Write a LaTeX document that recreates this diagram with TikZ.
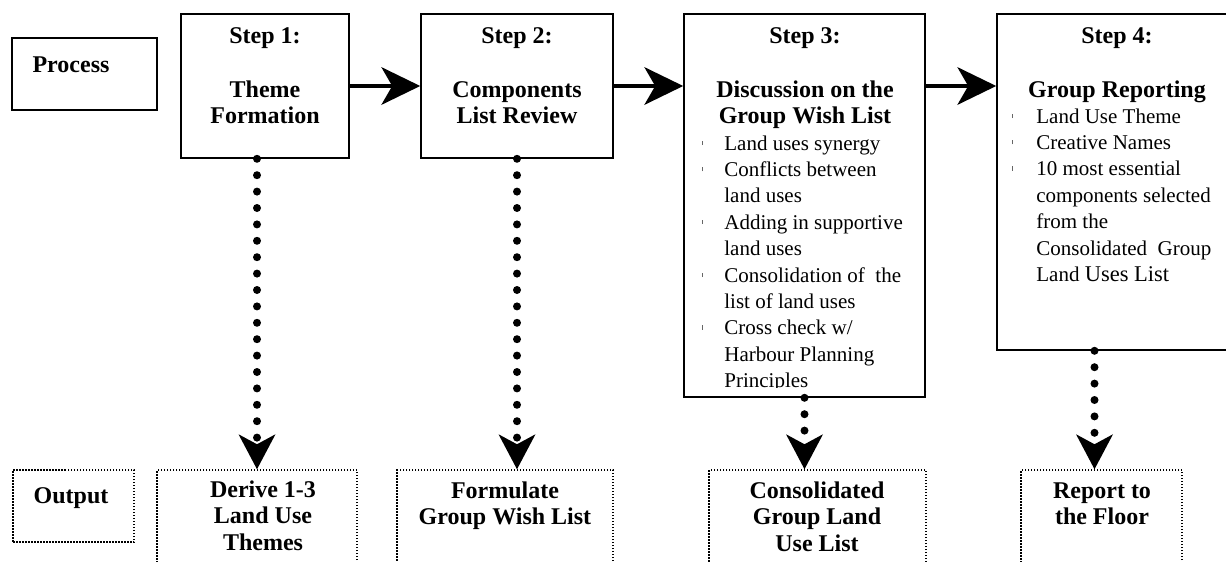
\documentclass[tikz,border=0pt]{standalone}
\usepackage{fontspec}
\setmainfont{Liberation Serif}
\usetikzlibrary{arrows.meta}

\tikzset{every picture/.style={line width=0.75pt}}
\tikzset{
  stepbox/.style={draw, line width=1.6, inner sep=0},
  outbox/.style={draw, line width=1.5, dash pattern=on 1.5pt off 1.5pt, inner sep=0},
  hdr/.style={font=\fontsize{24}{26}\selectfont\bfseries, align=center, inner sep=0},
  outtxt/.style={font=\fontsize{24}{26.5}\selectfont\bfseries, align=center, inner sep=0},
  itm/.style={font=\fontsize{21}{26.4}\selectfont, align=left, inner sep=0},
  flow/.style={line width=4, -{Stealth[length=39pt,width=38pt,inset=11pt,line width=0pt]}},
  dotflow/.style={line width=8, line cap=round, dash pattern=on 0pt off 16.4pt,
    -{Stealth[length=35pt,width=37pt,inset=10pt,line width=0pt]}}
}
\newcommand{\tck}[1]{\makebox[#1][l]{\color{black!60}\rule[5pt]{0.9pt}{4.5pt}}}

\begin{document}
\begin{tikzpicture}[x=1pt,y=1pt,yscale=-1,xscale=1]
\useasboundingbox (0,0) rectangle (1226,562);
\clip (0,0) rectangle (1226,562);

%Shape: Rectangle [process label]
\node [stepbox, minimum width=145, minimum height=72] (proc) at (84.5,74) {};
%Shape: Rectangle [step 1]
\node [stepbox, minimum width=168, minimum height=144] (s1) at (265,86) {};
%Shape: Rectangle [step 2]
\node [stepbox, minimum width=192, minimum height=144] (s2) at (517,86) {};
%Shape: Rectangle [step 3]
\node [stepbox, minimum width=241, minimum height=383] (s3) at (804.5,205.5) {};
%Shape: Rectangle [step 4]
\node [stepbox, minimum width=240, minimum height=336] (s4) at (1117,182) {};

%Shape: Rectangle [output label]
\node [outbox, minimum width=121, minimum height=72] (o0) at (73.5,506) {};
%Shape: Rectangle [output 1]
\node [outbox, minimum width=200, minimum height=130] (o1) at (257,535) {};
%Shape: Rectangle [output 2]
\node [outbox, minimum width=216, minimum height=130] (o2) at (505,535) {};
%Shape: Rectangle [output 3]
\node [outbox, minimum width=217, minimum height=130] (o3) at (817.5,535) {};
%Shape: Rectangle [output 4]
\node [outbox, minimum width=161, minimum height=130] (o4) at (1101.5,535) {};

%Straight Lines
\draw [flow] (s1.east) -- (s2.west);
\draw [flow] (s2.east) -- (s2.east -| s3.west);
\draw [flow] (s2.east -| s3.east) -- (s2.east -| s4.west);

%Dotted Lines
\draw [dotflow] (s1.south -| o1.north) -- (o1.north);
\draw [dotflow] (s2.south) -- (s2.south |- o2.north);
\draw [dotflow] (s3.south) -- (s3.south |- o3.north);
\draw [dotflow] ([xshift=-7]o4.north |- s4.south) -- ([xshift=-7]o4.north);

% Text Node
\node [hdr, anchor=base] (tproc) at (71,72) {Process};
% Text Node
\node [hdr, anchor=base] (h1) at (265,43) {Step 1:};
\node [hdr, anchor=base] (n1) at (265,123) {Theme\\Formation};
% Text Node
\node [hdr, anchor=base] (h2) at (517,43) {Step 2:};
\node [hdr, anchor=base] (n2) at (517,123) {Components\\List Review};
% Text Node
\node [hdr, anchor=base] (h3) at (805,43) {Step 3:};
\node [hdr, anchor=base] (n3) at (805,123) {Discussion on the\\Group Wish List};
\begin{scope}
\clip (684,14) rectangle (925,387);
\node [itm, anchor=base west] (l3) at (702,387.6) {\tck{22pt}Land uses synergy\\
  \tck{22pt}Conflicts between\\ \hspace*{22pt}land uses\\
  \tck{22pt}Adding in supportive\\ \hspace*{22pt}land uses\\
  \tck{22pt}Consolidation of~ the\\ \hspace*{22pt}list of land uses\\
  \tck{22pt}Cross check w/\\ \hspace*{22pt}Harbour Planning\\ \hspace*{22pt}Principles};
\end{scope}
% Text Node
\node [hdr, anchor=base] (h4) at (1117,43) {Step 4:};
\node [hdr, anchor=base] (n4) at (1117,97) {Group Reporting};
\node [itm, anchor=base west] (l4) at (1012,281.4) {\tck{24pt}Land Use Theme\\
  \tck{24pt}Creative Names\\
  \tck{24pt}10 most essential\\ \hspace*{24pt}components selected\\
  \hspace*{24pt}from the\\ \hspace*{24pt}Consolidated~ Group\\
  \hspace*{24pt}Land {\fontsize{22.5}{26.4}\selectfont Uses List}};

% Text Node
\node [outtxt, anchor=base] (tout) at (71,503) {Output};
\node [outtxt, anchor=base] (t1) at (263,550) {Derive 1-3\\Land Use\\Themes};
\node [outtxt, anchor=base] (t2) at (505,524.5) {Formulate\\Group Wish List};
\node [outtxt, anchor=base] (t3) at (817,551) {Consolidated\\Group Land\\Use List};
\node [outtxt, anchor=base] (t4) at (1102,524.5) {Report to\\the Floor};

\end{tikzpicture}
\end{document}
